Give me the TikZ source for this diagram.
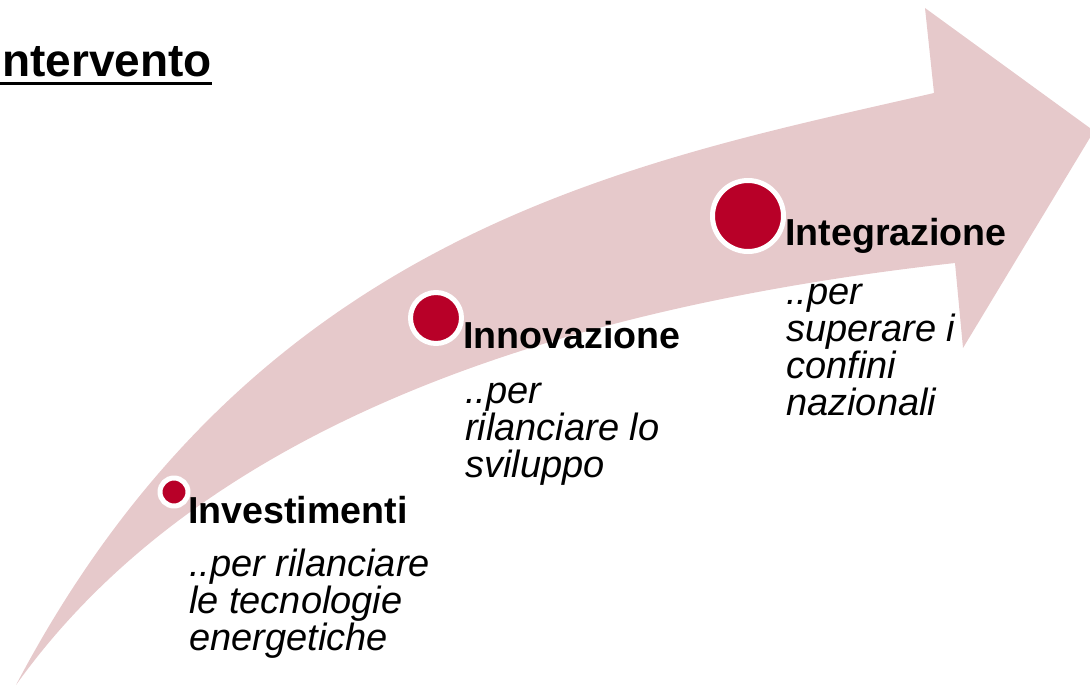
\documentclass[tikz,border=0pt]{standalone}
\usepackage{fontspec}
\setmainfont{Liberation Sans}
\definecolor{arrowpink}{RGB}{230,201,203}
\definecolor{dotred}{RGB}{184,0,40}
\begin{document}
\begin{tikzpicture}[x=1pt,y=-1pt, line join=round,
	dot/.style={circle,fill=dotred,draw=white,line width=5pt,inner sep=0pt},
	ttl/.style={font=\fontsize{37.6}{40}\selectfont\bfseries,anchor=base west,inner sep=0pt},
	desc/.style={font=\fontsize{38}{37}\selectfont\itshape,align=left,anchor=base west,inner sep=0pt}]
	\useasboundingbox (0,0) rectangle (1090,685);
	% freccia curva
	\fill[arrowpink] (16,685) .. controls (256,229) and (634,162) .. (934,93)
		-- (925,8) -- (1094,131) -- (963,348) -- (955,263)
		.. controls (605,302) and (216,405) .. (16,685) -- cycle;
	% titolo
	\node[font=\fontsize{46}{50}\selectfont\bfseries,anchor=base east,inner sep=0pt] (head) at (212,77) {ntervento};
	\draw[line width=3pt] ([xshift=-5pt,yshift=-6.5pt]head.base west) -- ([yshift=-6.5pt]head.base east);
	% tappe (base = ultima riga)
	\node[dot,minimum size=28pt] (p1) at (174,492) {};
	\node[ttl] (t1) at (188,523) {Investimenti};
	\node[desc] (d1) at (189,650) {..per rilanciare\\le tecnologie\\energetiche};
	\node[dot,minimum size=51pt] (p2) at (436,318) {};
	\node[ttl] (t2) at (463,348) {Innovazione};
	\node[desc] (d2) at (465,477) {..per\\rilanciare lo\\sviluppo};
	\node[dot,minimum size=71pt] (p3) at (748,216) {};
	\node[ttl] (t3) at (785,245) {Integrazione};
	\node[desc] (d3) at (786,415) {..per\\superare i\\confini\\nazionali};
\end{tikzpicture}
\end{document}
